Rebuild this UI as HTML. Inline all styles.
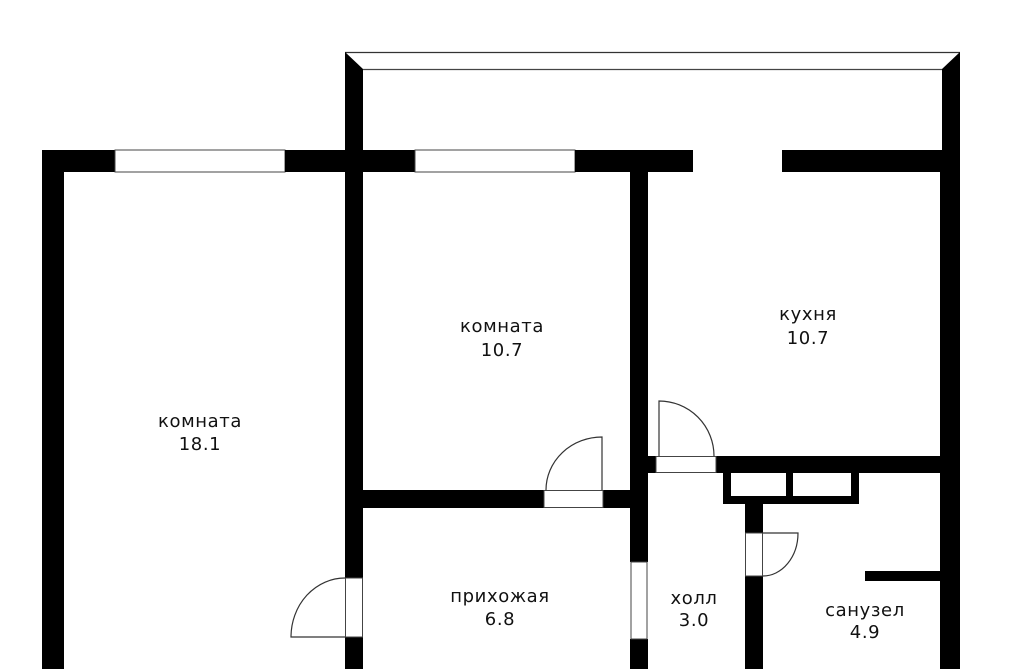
<!DOCTYPE html>
<html><head><meta charset="utf-8"><style>
html,body{margin:0;padding:0;background:#fff;}
svg{display:block;}
text{font-family:"DejaVu Sans","Liberation Sans",sans-serif;font-size:18px;letter-spacing:0.6px;fill:#111;text-anchor:middle;}
</style></head><body>
<svg width="1024" height="669" viewBox="0 0 1024 669" xmlns="http://www.w3.org/2000/svg">
<rect width="1024" height="669" fill="#fff"/>
<line x1="345" y1="52.5" x2="960" y2="52.5" stroke="#333" stroke-width="1.2"/>
<line x1="363" y1="69.5" x2="942" y2="69.5" stroke="#444" stroke-width="1.2"/>
<polygon points="345,52 363,69 363,150 345,150" fill="#000"/>
<polygon points="960,52 942,69 942,150 960,150" fill="#000"/>
<rect x="42" y="150" width="73" height="22" fill="#000"/>
<rect x="115" y="150" width="170" height="22" fill="#fff" stroke="#444" stroke-width="1"/>
<rect x="285" y="150" width="130" height="22" fill="#000"/>
<rect x="415" y="150" width="160" height="22" fill="#fff" stroke="#444" stroke-width="1"/>
<rect x="575" y="150" width="118" height="22" fill="#000"/>
<rect x="782" y="150" width="178" height="22" fill="#000"/>
<rect x="42" y="150" width="22" height="519" fill="#000"/>
<rect x="940" y="150" width="20" height="519" fill="#000"/>
<rect x="345" y="150" width="18" height="428" fill="#000"/>
<rect x="345" y="637" width="18" height="32" fill="#000"/>
<rect x="345.5" y="578" width="17" height="59" fill="#fff" stroke="#444" stroke-width="1"/>
<path d="M345 578 A54 59 0 0 0 291 637 L345 637" fill="none" stroke="#333" stroke-width="1.2"/>
<rect x="630" y="172" width="18" height="390" fill="#000"/>
<rect x="630" y="639" width="18" height="30" fill="#000"/>
<rect x="631" y="562" width="16" height="77" fill="#fff" stroke="#444" stroke-width="1"/>
<rect x="363" y="490" width="181" height="18" fill="#000"/>
<rect x="603" y="490" width="27" height="18" fill="#000"/>
<rect x="544" y="490.5" width="59" height="17" fill="#fff" stroke="#444" stroke-width="1"/>
<path d="M602 490 L602 437 A56 53 0 0 0 546 490" fill="none" stroke="#333" stroke-width="1.2"/>
<rect x="648" y="456" width="8" height="17" fill="#000"/>
<rect x="716" y="456" width="224" height="17" fill="#000"/>
<rect x="656" y="456.5" width="60" height="16" fill="#fff" stroke="#444" stroke-width="1"/>
<path d="M659 456 L659 401 A55 55 0 0 1 714 456" fill="none" stroke="#333" stroke-width="1.2"/>
<rect x="723" y="473" width="136" height="31" fill="#000"/>
<rect x="731" y="473" width="55" height="23" fill="#fff"/>
<rect x="793" y="473" width="58" height="23" fill="#fff"/>
<rect x="745" y="504" width="18" height="29" fill="#000"/>
<rect x="745" y="576" width="18" height="93" fill="#000"/>
<rect x="745.5" y="533" width="17" height="43" fill="#fff" stroke="#444" stroke-width="1"/>
<path d="M763 533 L798 533 A35 43 0 0 1 763 576" fill="none" stroke="#333" stroke-width="1.2"/>
<rect x="865" y="571" width="75" height="10" fill="#000"/>
<text x="200" y="427">комната</text><text x="200" y="450">18.1</text>
<text x="502" y="332">комната</text><text x="502" y="356">10.7</text>
<text x="808" y="320">кухня</text><text x="808" y="344">10.7</text>
<text x="500" y="602">прихожая</text><text x="500" y="625">6.8</text>
<text x="694" y="604">холл</text><text x="694" y="626">3.0</text>
<text x="865" y="616">санузел</text><text x="865" y="638">4.9</text>
</svg>
</body></html>
